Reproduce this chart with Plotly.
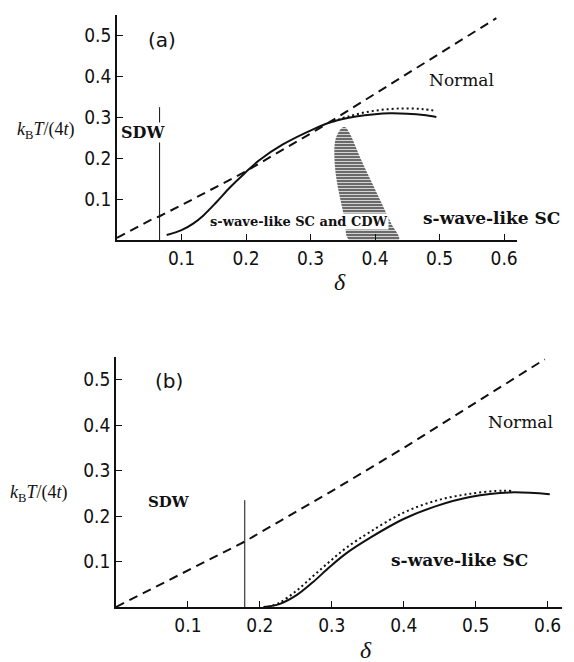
import plotly.graph_objects as go

# ---------------- data: panel (a) ----------------
a_dash_x = [0.0, 0.051, 0.066, 0.10, 0.198, 0.252, 0.309, 0.33, 0.40, 0.50, 0.588]
a_dash_y = [0.005, 0.048, 0.058, 0.085, 0.166, 0.215, 0.268, 0.288, 0.357, 0.455, 0.541]

a_solid_x = [0.077, 0.100, 0.118, 0.134, 0.154, 0.175, 0.198, 0.221, 0.257, 0.304, 0.335, 0.37, 0.40, 0.423, 0.45, 0.475, 0.495]
a_solid_y = [0.012, 0.024, 0.040, 0.060, 0.092, 0.128, 0.163, 0.195, 0.233, 0.270, 0.289, 0.301, 0.307, 0.309, 0.308, 0.305, 0.300]

a_dot_x = [0.335, 0.36, 0.39, 0.42, 0.449, 0.475, 0.495]
a_dot_y = [0.289, 0.302, 0.313, 0.319, 0.321, 0.319, 0.315]

a_sdw_x = [0.066, 0.066]
a_sdw_y = [0.0, 0.324]

a_hatch_x = [0.350, 0.343, 0.338, 0.337, 0.340, 0.346, 0.353, 0.360,
             0.437, 0.425, 0.410, 0.395, 0.380, 0.368, 0.360, 0.354, 0.350]
a_hatch_y = [0.275, 0.262, 0.240, 0.200, 0.150, 0.100, 0.050, 0.0,
             0.0, 0.040, 0.090, 0.140, 0.190, 0.235, 0.262, 0.275, 0.275]

# ---------------- data: panel (b) ----------------
b_dash_x = [0.0, 0.10, 0.179, 0.228, 0.30, 0.40, 0.50, 0.596]
b_dash_y = [0.0, 0.080, 0.144, 0.189, 0.255, 0.350, 0.450, 0.545]

b_solid_x = [0.205, 0.228, 0.251, 0.274, 0.297, 0.320, 0.353, 0.399, 0.445, 0.492, 0.547, 0.603]
b_solid_y = [0.0, 0.007, 0.026, 0.055, 0.088, 0.118, 0.152, 0.193, 0.222, 0.242, 0.252, 0.248]

b_dot_x = [0.211, 0.228, 0.251, 0.274, 0.297, 0.320, 0.353, 0.399, 0.445, 0.492, 0.538, 0.55]
b_dot_y = [0.0, 0.010, 0.036, 0.068, 0.100, 0.130, 0.165, 0.207, 0.234, 0.249, 0.256, 0.255]

b_sdw_x = [0.179, 0.179]
b_sdw_y = [0.0, 0.235]

x_ticks = [0.1, 0.2, 0.3, 0.4, 0.5, 0.6]
x_tick_labels = ["0.1", "0.2", "0.3", "0.4", "0.5", "0.6"]
y_ticks = [0.1, 0.2, 0.3, 0.4, 0.5]
y_tick_labels = ["0.1", "0.2", "0.3", "0.4", "0.5"]

W, H = 574, 662
BLACK = "#111111"
TICKFONT = dict(family="DejaVu Sans Condensed, Liberation Sans Narrow, DejaVu Sans, sans-serif", size=19, color=BLACK)
SERIF = "DejaVu Serif, Liberation Serif, serif"

fig = go.Figure()

def add_panel(xa, ya, dx, dy, sx, sy, ox, oy, vx, vy):
    fig.add_trace(go.Scatter(x=dx, y=dy, mode="lines", xaxis=xa, yaxis=ya,
                             line=dict(color=BLACK, width=2, dash="9px,6px"), showlegend=False))
    fig.add_trace(go.Scatter(x=ox, y=oy, mode="lines", xaxis=xa, yaxis=ya, line_shape="spline",
                             line=dict(color=BLACK, width=2, dash="2px,3px"), showlegend=False))
    fig.add_trace(go.Scatter(x=sx, y=sy, mode="lines", xaxis=xa, yaxis=ya, line_shape="spline",
                             line=dict(color=BLACK, width=2), showlegend=False))
    fig.add_trace(go.Scatter(x=vx, y=vy, mode="lines", xaxis=xa, yaxis=ya,
                             line=dict(color=BLACK, width=1), showlegend=False))

fig.add_trace(go.Scatter(x=a_hatch_x, y=a_hatch_y, mode="lines", xaxis="x", yaxis="y",
                         line=dict(color="rgba(0,0,0,0)", width=0, shape="spline"),
                         fill="toself", fillcolor="white",
                         fillpattern=dict(shape="-", size=3, solidity=0.45, fgcolor="black",
                                          fgopacity=1, bgcolor="white"),
                         showlegend=False))
add_panel("x", "y", a_dash_x, a_dash_y, a_solid_x, a_solid_y, a_dot_x, a_dot_y, a_sdw_x, a_sdw_y)
add_panel("x2", "y2", b_dash_x, b_dash_y, b_solid_x, b_solid_y, b_dot_x, b_dot_y, b_sdw_x, b_sdw_y)

def xax(dom, anchor):
    return dict(domain=dom, anchor=anchor, range=[0, 0.62], showline=True, linecolor=BLACK, linewidth=1.5,
                ticks="inside", ticklen=6, tickcolor=BLACK, tickwidth=1, tickvals=x_ticks, ticktext=x_tick_labels,
                tickfont=TICKFONT, showgrid=False, zeroline=False)

def yax(dom, anchor):
    return dict(domain=dom, anchor=anchor, range=[0, 0.55], showline=True, linecolor=BLACK, linewidth=1.5,
                ticks="inside", ticklen=6, tickcolor=BLACK, tickwidth=1, tickvals=y_ticks, ticktext=y_tick_labels,
                tickfont=TICKFONT, showgrid=False, zeroline=False)

fig.update_layout(
    width=W, height=H, margin=dict(l=0, r=0, t=0, b=0),
    paper_bgcolor="white", plot_bgcolor="white",
    xaxis=xax([117 / W, 517 / W], "y"),
    yaxis=yax([1 - 240 / H, 1 - 14.5 / H], "x"),
    xaxis2=xax([116 / W, 562 / W], "y2"),
    yaxis2=yax([1 - 607 / H, 1 - 357 / H], "x2"),
)

def txt(x, y, s, xref, yref, size, family=SERIF, bg=None, bold=False):
    fig.add_annotation(x=x, y=y, xref=xref, yref=yref, text=("<b>%s</b>" % s) if bold else s,
                       showarrow=False, font=dict(family=family, size=size, color=BLACK),
                       xanchor="center", yanchor="middle", bgcolor=bg, borderpad=0)

SANS = "DejaVu Sans, Liberation Sans, sans-serif"
# panel (a)
txt(0.070, 0.488, "(a)", "x", "y", 20, family=SANS)
txt(0.040, 0.263, "SDW", "x", "y", 16, bg="white", bold=True)
txt(0.534, 0.390, "Normal", "x", "y", 17)
txt(0.282, 0.046, "s-wave-like SC and CDW", "x", "y", 13, bg="white", bold=True)
txt(0.580, 0.054, "s-wave-like SC", "x", "y", 17, bold=True)
# panel (b)
txt(0.074, 0.497, "(b)", "x2", "y2", 20, family=SANS)
txt(0.074, 0.231, "SDW", "x2", "y2", 15, bold=True)
txt(0.5625, 0.407, "Normal", "x2", "y2", 17)
txt(0.478, 0.103, "s-wave-like SC", "x2", "y2", 17, bold=True)

# axis titles
ylab = "<i>k</i><sub>B</sub><i>T</i>/(4<i>t</i>)"
txt(45 / W, 1 - 130 / H, ylab, "paper", "paper", 18, family="Liberation Serif, serif")
txt(38 / W, 1 - 493 / H, ylab, "paper", "paper", 18, family="Liberation Serif, serif")
txt(340 / W, 1 - 282 / H, "<i>δ</i>", "paper", "paper", 24, family="Liberation Serif, serif")
txt(366 / W, 1 - 650 / H, "<i>δ</i>", "paper", "paper", 24, family="Liberation Serif, serif")

fig.write_html("out.html", config={"displayModeBar": False},
               post_script="document.body.style.margin='0px';")
